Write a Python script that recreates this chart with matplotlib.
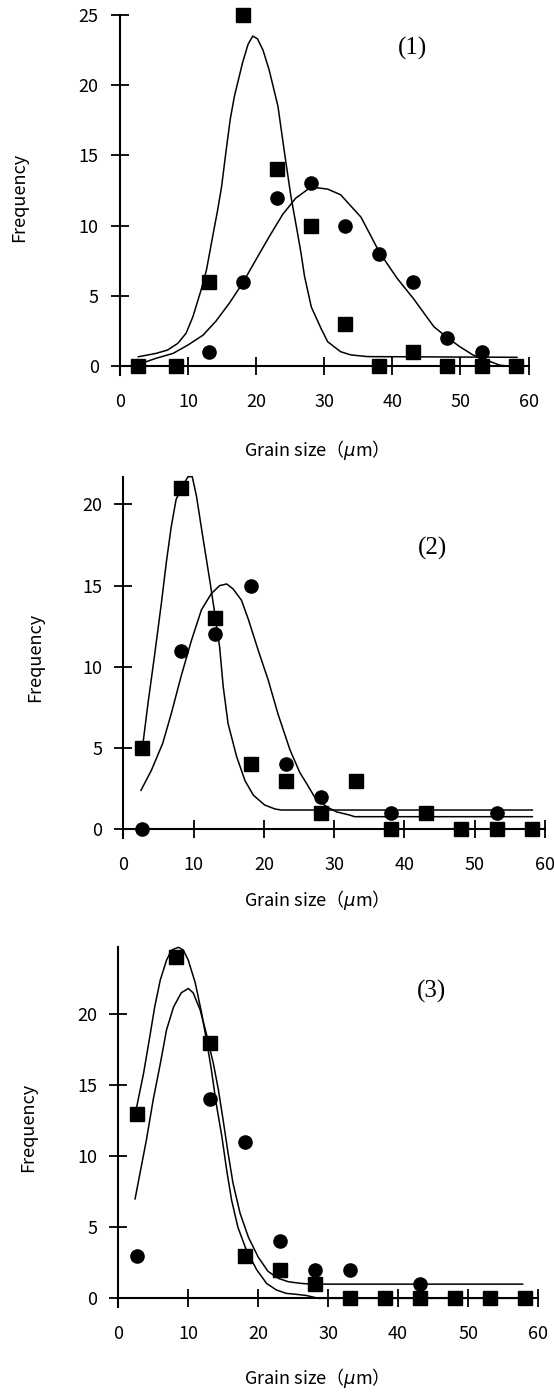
import matplotlib
matplotlib.use("Agg")
import matplotlib.pyplot as plt

plt.rcParams['font.family'] = ['Noto Sans CJK JP', 'DejaVu Sans']

# bin centres (um)
grain_x = [2.7, 8.2, 13.1, 18.1, 23.1, 28.1, 33.1, 38.1, 43.1, 48.1, 53.1, 58.1]

# panel (1)
p1_sq = [0, 0, 6, 25, 14, 10, 3, 0, 1, 0, 0, 0]
p1_ci = [0, 0, 1, 6, 12, 13, 10, 8, 6, 2, 1, 0]
p1_fit_sq_x = [2.7, 5.3, 7.0, 8.5, 9.7, 10.7, 11.9, 12.7, 13.6, 14.3, 14.9, 15.6, 16.2, 16.8, 18.0, 18.8, 19.5,
               20.2, 21.0, 21.9, 23.2, 24.1, 25.1, 26.1, 26.6, 27.1, 28.1, 29.6, 30.5, 32.4, 33.9, 36.4, 58.3]
p1_fit_sq_y = [0.66, 0.9, 1.14, 1.62, 2.33, 3.5, 5.4, 6.84, 9.2, 11.0, 12.7, 15.4, 17.6, 19.2, 21.6, 22.9, 23.5,
               23.3, 22.5, 21.1, 18.5, 15.4, 12.1, 9.4, 8.0, 6.4, 4.2, 2.6, 1.73, 1.02, 0.79, 0.67, 0.62]
p1_fit_ci_x = [2.9, 5.3, 7.8, 10.0, 12.2, 14.1, 16.1, 18.0, 20.0, 21.9, 23.9, 25.8, 27.8, 28.5, 30.5,
               32.4, 35.4, 38.1, 40.7, 43.1, 46.1, 48.0, 49.9, 51.8, 53.8, 55.7, 56.7, 57.5]
p1_fit_ci_y = [0.15, 0.55, 0.9, 1.5, 2.2, 3.2, 4.5, 5.9, 7.6, 9.2, 10.8, 11.95, 12.66, 12.72, 12.6,
               12.2, 10.6, 8.1, 6.25, 4.8, 2.8, 2.05, 1.38, 0.8, 0.43, 0.07, 0.0, 0.0]

# panel (2)
p2_sq = [5, 21, 13, 4, 3, 1, 3, 0, 1, 0, 0, 0]
p2_ci = [0, 11, 12, 15, 4, 2, 3, 1, 1, 0, 1, 0]
p2_fit_sq_x = [2.7, 3.5, 4.4, 5.4, 6.1, 6.8, 7.5, 8.5, 9.2, 9.8, 10.4, 11.3, 12.3, 13.0, 13.7, 14.2,
               14.9, 16.1, 17.3, 18.5, 20.1, 21.6, 22.5, 58.2]
p2_fit_sq_y = [5.0, 7.75, 10.6, 13.9, 16.4, 18.6, 20.3, 21.2, 21.7, 21.7, 20.5, 18.0, 15.3, 13.3, 11.2, 8.8,
               6.5, 4.5, 3.0, 2.1, 1.5, 1.25, 1.19, 1.19]
p2_fit_ci_x = [2.5, 4.0, 5.6, 6.8, 8.2, 9.7, 11.1, 12.5, 13.7, 14.7, 15.6, 16.8, 17.8, 19.2, 20.6, 22.0,
               23.7, 25.1, 26.1, 27.2, 28.9, 30.3, 32.2, 32.9, 58.2]
p2_fit_ci_y = [2.4, 3.65, 5.3, 7.1, 9.4, 11.65, 13.5, 14.5, 15.0, 15.1, 14.8, 14.1, 12.9, 11.0, 9.2, 7.1,
               4.9, 3.5, 2.8, 2.0, 1.4, 1.08, 0.88, 0.78, 0.78]

# panel (3)
p3_sq = [13, 24, 18, 3, 2, 1, 0, 0, 0, 0, 0, 0]
p3_ci = [3, 24, 14, 11, 4, 2, 2, 0, 1, 0, 0, 0]
p3_fit_sq_x = [2.6, 3.6, 4.5, 5.2, 6.0, 6.9, 7.6, 8.6, 9.3, 10.0, 11.0, 11.9, 12.6, 13.3, 14.0, 14.8,
               15.5, 16.2, 17.1, 18.3, 19.8, 21.2, 22.6, 24.0, 25.5, 26.9, 28.6, 58.2]
p3_fit_sq_y = [13.4, 15.8, 18.4, 20.5, 22.4, 23.8, 24.5, 24.7, 24.5, 23.8, 22.2, 20.1, 18.2, 16.1, 13.7, 11.4,
               9.0, 6.9, 5.0, 3.4, 2.0, 1.05, 0.59, 0.35, 0.28, 0.2, 0.0, 0.0]
p3_fit_ci_x = [2.4, 3.1, 4.0, 5.0, 6.0, 6.9, 7.9, 9.0, 10.0, 10.7, 11.7, 12.6, 13.6, 14.3, 15.0, 15.7,
               16.4, 17.4, 18.6, 20.0, 21.4, 22.9, 24.3, 26.0, 27.5, 57.8]
p3_fit_ci_y = [7.0, 8.8, 11.1, 14.0, 16.5, 18.9, 20.5, 21.5, 21.8, 21.5, 20.3, 18.6, 16.5, 14.7, 12.5, 10.2,
               8.1, 6.0, 4.3, 2.9, 1.9, 1.4, 1.17, 1.06, 1.0, 1.0]

panels = [
    ("(1)", p1_sq, p1_ci, p1_fit_sq_x, p1_fit_sq_y, p1_fit_ci_x, p1_fit_ci_y,
     [0, 5, 10, 15, 20, 25], (-0.64, 25.0), (120, 528.5, 15, 375), (43, 22.6), (19, 197), 450),
    ("(2)", p2_sq, p2_ci, p2_fit_sq_x, p2_fit_sq_y, p2_fit_ci_x, p2_fit_ci_y,
     [0, 5, 10, 15, 20], (-0.55, 21.7), (123.4, 545, 476.7, 838.3), (44, 17.3), (35, 657), 900),
    ("(3)", p3_sq, p3_ci, p3_fit_sq_x, p3_fit_sq_y, p3_fit_ci_x, p3_fit_ci_y,
     [0, 5, 10, 15, 20], (-0.63, 24.7), (118.3, 538, 947.3, 1307.3), (44.8, 21.6), (28, 1127), 1378),
]

W, H = 554, 1392
fig = plt.figure(figsize=(W / 100, H / 100), dpi=100)

for (tag, sq, ci, fsx, fsy, fcx, fcy, yticks, ylim, box, tagpos, ylabpos, xlab_y) in panels:
    left, right, top, bottom = box
    ax = fig.add_axes([left / W, 1 - bottom / H, (right - left) / W, (bottom - top) / H])
    ax.set_xlim(0, 60)
    ax.set_ylim(*ylim)
    ax.patch.set_visible(False)

    ax.plot(fsx, fsy, color='black', lw=1.1, clip_on=False, zorder=2)
    ax.plot(fcx, fcy, color='black', lw=1.1, clip_on=False, zorder=2)
    ax.plot(grain_x, ci, 'o', color='black', ms=9.5, clip_on=False, zorder=3)
    ax.plot(grain_x, sq, 's', color='black', ms=9.5, clip_on=False, zorder=4)

    for s in ['top', 'right']:
        ax.spines[s].set_visible(False)
    ax.spines['bottom'].set_position(('data', 0))
    ax.spines['bottom'].set_bounds(0, 60)
    ax.spines['left'].set_linewidth(1.5)
    ax.spines['bottom'].set_linewidth(1.5)

    ax.set_xticks(range(0, 61, 10))
    ax.set_yticks(yticks)
    ax.tick_params(axis='both', direction='inout', length=13.5, width=1.3, labelsize=13)
    ax.tick_params(axis='x', pad=12.5)
    ax.tick_params(axis='y', pad=8.5)

    ax.text(tagpos[0], tagpos[1], tag, family='Liberation Serif', fontsize=18,
            ha='center', va='center')
    fig.text(ylabpos[0] / W, 1 - ylabpos[1] / H, 'Frequency', rotation=90,
             ha='center', va='center', fontsize=13)
    fig.text(312 / W, 1 - xlab_y / H, 'Grain size（$\\mu$m）', ha='center', va='center',
             fontsize=13)

fig.savefig('out.png', dpi=100)
